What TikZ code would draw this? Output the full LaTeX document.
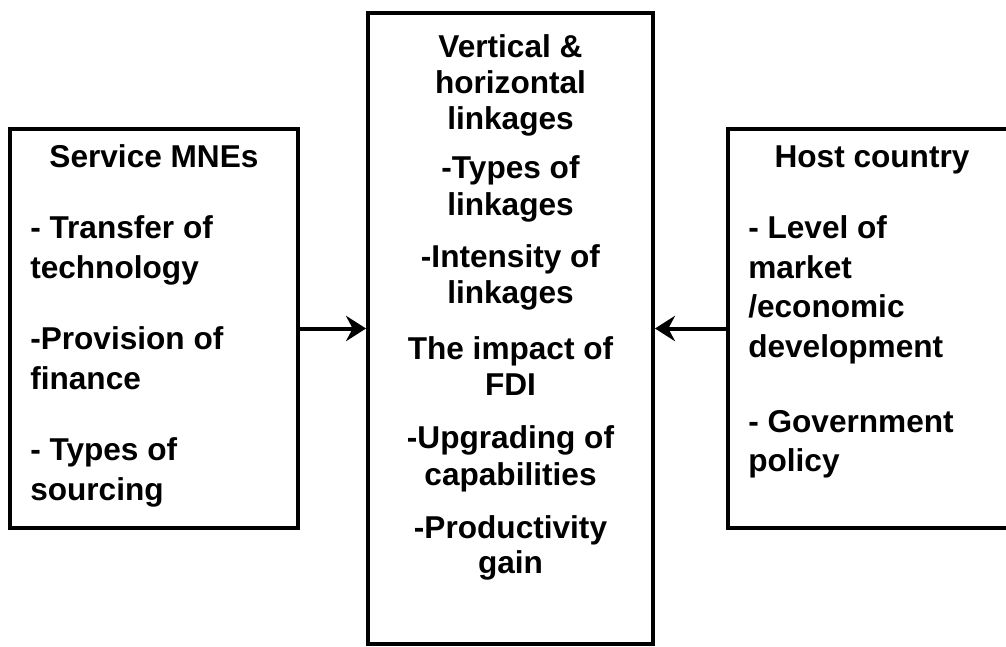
\documentclass[tikz,border=0pt]{standalone}
\usepackage{fontspec}
\setmainfont{Liberation Sans}
\usepackage{tikz}
\usetikzlibrary{arrows.meta}

\tikzset{
	box/.style={draw,line width=3pt,inner sep=0pt},
	linetxt/.style={anchor=base west,inner sep=0pt,font=\bfseries\fontsize{23.7pt}{28pt}\selectfont},
	midtxt/.style={anchor=base,inner sep=0pt,font=\bfseries\fontsize{23.7pt}{28pt}\selectfont},
	link/.style={line width=3pt,-{Stealth[length=15pt,width=19pt,inset=5pt]}}
}

\begin{document}
\begin{tikzpicture}[x=0.75pt,y=-0.75pt]
	\useasboundingbox (0,0) rectangle (1006,646);
	
	% the three boxes
	\node[box,minimum width=216pt,minimum height=299.25pt] (mne) at (154,328.5) {};
	\node[box,minimum width=213.75pt,minimum height=473pt] (link) at (510.5,328.5) {};
	\node[box,minimum width=216pt,minimum height=299.25pt] (host) at (872,328.5) {};
	
	% service MNEs
	\node[midtxt] (mneTitle) at (154,167) {Service MNEs};
	\node[linetxt] (mneA) at (30,238) {- Transfer of};
	\node[linetxt] (mneAb) at (30,278) {technology};
	\node[linetxt] (mneB) at (30,349) {-Provision of};
	\node[linetxt] (mneBb) at (30,389) {finance};
	\node[linetxt] (mneC) at (30,460) {- Types of};
	\node[linetxt] (mneCb) at (30,500) {sourcing};
	
	% linkages
	\node[midtxt] (linkTitle) at (510.5,57) {Vertical \&};
	\node[midtxt] (linkTitleb) at (510.5,93) {horizontal};
	\node[midtxt] (linkTitlec) at (510.5,129) {linkages};
	\node[midtxt] (linkA) at (510.5,178) {-Types of};
	\node[midtxt] (linkAb) at (510.5,215) {linkages};
	\node[midtxt] (linkB) at (510.5,267) {-Intensity of};
	\node[midtxt] (linkBb) at (510.5,303) {linkages};
	\node[midtxt] (linkC) at (510.5,359) {The impact of};
	\node[midtxt] (linkCb) at (510.5,395) {FDI};
	\node[midtxt] (linkD) at (510.5,448) {-Upgrading of};
	\node[midtxt] (linkDb) at (510.5,485) {capabilities};
	\node[midtxt] (linkE) at (510.5,538) {-Productivity};
	\node[midtxt] (linkEb) at (510.5,573) {gain};
	
	% host country
	\node[midtxt] (hostTitle) at (872,167) {Host country};
	\node[linetxt] (hostA) at (748,238) {- Level of};
	\node[linetxt] (hostAb) at (748,278) {market};
	\node[linetxt] (hostAc) at (748,317) {/economic};
	\node[linetxt] (hostAd) at (748,357) {development};
	\node[linetxt] (hostB) at (748,432) {- Government};
	\node[linetxt] (hostBb) at (748,471) {policy};
	
	\draw[link] (mne.east) -- (link.west);
	\draw[link] (host.west) -- (link.east);
\end{tikzpicture}
\end{document}
